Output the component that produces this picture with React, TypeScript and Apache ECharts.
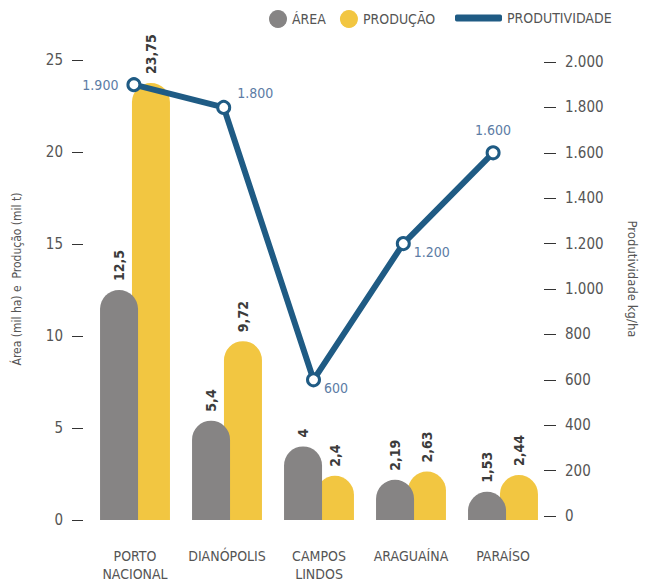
import React, { useEffect, useRef } from "react";
import * as echarts from "echarts";

const categories = ["PORTO\nNACIONAL", "DIANÓPOLIS", "CAMPOS\nLINDOS", "ARAGUAÍNA", "PARAÍSO"];
const area = [12.5, 5.4, 4, 2.19, 1.53];
const producao = [23.75, 9.72, 2.4, 2.63, 2.44];
const produtividade = [1900, 1800, 600, 1200, 1600];
const leftTicks = { min: 0, max: 25, interval: 5 };
const rightTicks = { min: 0, max: 2000, interval: 200 };

const FONT = "'DejaVu Sans Condensed', 'Roboto', sans-serif";
const GRAY = "#868484";
const YELLOW = "#f2c641";
const BLUE = "#1f5b84";
const LABEL_BLUE = "#5c7ca5";
const TEXT = "#555555";

const fmtPt = (v: number) => String(v).replace(".", ",");
const fmtThousand = (v: number) =>
  v >= 1000 ? `${Math.floor(v / 1000)}.${String(v % 1000).padStart(3, "0")}` : String(v);

const lineLabelPos: any[] = [
  { position: "left", distance: 8, offset: [0, 0] },
  { position: "right", distance: 6, offset: [0, -14] },
  { position: "right", distance: 3, offset: [0, 8] },
  { position: "right", distance: 3, offset: [0, 8] },
  { position: "top", distance: 8, offset: [0, 0] },
];

export default function App() {
  const ref = useRef<HTMLDivElement>(null);
  useEffect(() => {
    if (!ref.current) return;
    const chart = echarts.init(ref.current, null, { renderer: "svg" });
    const barLabel = {
      show: true,
      position: "top",
      rotate: 90,
      align: "left",
      verticalAlign: "middle",
      distance: 9,
      fontFamily: FONT,
      fontWeight: "bold",
      fontSize: 14,
      color: "#3b3b3b",
      formatter: (p: any) => fmtPt(p.value),
    };
    chart.setOption({
      animation: false,
      textStyle: { fontFamily: FONT },
      legend: [
        {
          data: [
            { name: "ÁREA", icon: "circle" },
            { name: "PRODUÇÃO", icon: "circle" },
          ],
          left: 269,
          top: 10,
          padding: 0,
          itemWidth: 18,
          itemHeight: 18,
          itemGap: 14,
          textStyle: { fontFamily: FONT, fontSize: 14, color: TEXT },
        },
        {
          data: [
            {
              name: "PRODUTIVIDADE",
              icon: "roundRect",
              itemStyle: { color: BLUE, borderWidth: 0 },
            },
          ],
          left: 455,
          top: 11,
          padding: 0,
          itemWidth: 47,
          itemHeight: 7,
          textStyle: { fontFamily: FONT, fontSize: 14, color: TEXT },
        },
      ],
      grid: [
        { left: 89, right: 98, top: 60, bottom: 63 },
        { left: 89, right: 98, top: 62, bottom: 67 },
      ],
      xAxis: [
        {
          type: "category",
          gridIndex: 0,
          data: categories,
          axisLine: { show: false },
          axisTick: { show: false },
          axisLabel: {
            margin: 27,
            fontFamily: FONT,
            fontSize: 14,
            lineHeight: 18,
            color: TEXT,
            interval: 0,
          },
        },
        {
          type: "category",
          gridIndex: 1,
          data: categories,
          show: false,
        },
      ],
      yAxis: [
        {
          type: "value",
          gridIndex: 0,
          min: leftTicks.min,
          max: leftTicks.max,
          interval: leftTicks.interval,
          offset: 6,
          splitLine: { show: false },
          axisLine: { show: false },
          axisTick: { show: true, length: 11, lineStyle: { color: "#333", width: 1 } },
          axisLabel: { margin: 20, fontFamily: FONT, fontSize: 15, color: TEXT },
          name: "Área (mil ha) e  Produção (mil t)",
          nameLocation: "middle",
          nameRotate: 90,
          nameGap: 60,
          nameTextStyle: { fontFamily: FONT, fontSize: 12, color: TEXT, padding: [0, 0, 0, 22] },
        },
        {
          type: "value",
          gridIndex: 1,
          position: "right",
          min: rightTicks.min,
          max: rightTicks.max,
          interval: rightTicks.interval,
          offset: 6,
          splitLine: { show: false },
          axisLine: { show: false },
          axisTick: { show: true, length: 12, lineStyle: { color: "#333", width: 1 } },
          axisLabel: {
            margin: 21,
            fontFamily: FONT,
            fontSize: 15,
            color: TEXT,
            formatter: (v: number) => fmtThousand(v),
          },
          name: "Produtividade kg/ha",
          nameLocation: "middle",
          nameRotate: -90,
          nameGap: 82,
          nameTextStyle: { fontFamily: FONT, fontSize: 13, color: TEXT, padding: [0, 20, 0, 0] },
        },
      ],
      series: [
        {
          name: "ÁREA",
          type: "bar",
          xAxisIndex: 0,
          yAxisIndex: 0,
          data: area,
          barWidth: 38,
          barGap: "-16%",
          z: 3,
          itemStyle: { color: GRAY, borderRadius: [19, 19, 0, 0] },
          label: barLabel,
        },
        {
          name: "PRODUÇÃO",
          type: "bar",
          xAxisIndex: 0,
          yAxisIndex: 0,
          data: producao,
          barWidth: 38,
          barGap: "-16%",
          z: 2,
          itemStyle: { color: YELLOW, borderRadius: [19, 19, 0, 0] },
          label: barLabel,
        },
        {
          name: "PRODUTIVIDADE",
          type: "line",
          xAxisIndex: 1,
          yAxisIndex: 1,
          z: 5,
          data: produtividade.map((v, i) => ({
            value: v,
            label: lineLabelPos[i],
          })),
          lineStyle: { color: BLUE, width: 6 },
          itemStyle: { color: "#ffffff", borderColor: BLUE, borderWidth: 3 },
          symbol: "circle",
          symbolSize: 12,
          label: {
            show: true,
            fontFamily: FONT,
            fontSize: 14,
            color: LABEL_BLUE,
            formatter: (p: any) => fmtThousand(p.value),
          },
        },
      ],
    });
    return () => chart.dispose();
  }, []);
  return (
    <div
      ref={ref}
      style={{ position: "absolute", left: 0, top: 0, width: 647, height: 583 }}
    />
  );
}
